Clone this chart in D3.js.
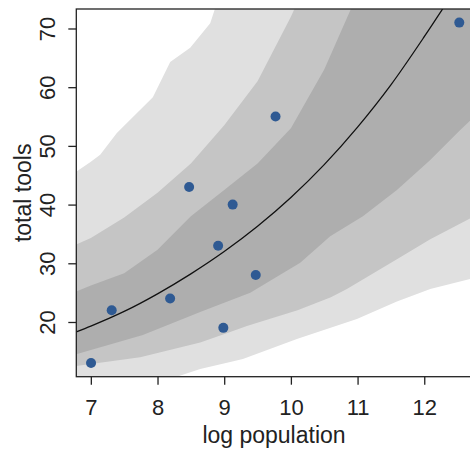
<!DOCTYPE html>
<html>
<head>
<meta charset="utf-8">
<script src="https://cdn.jsdelivr.net/npm/d3@7"></script>
<style>
  html, body { margin: 0; padding: 0; background: #fff; }
  svg { display: block; }
  text { font-family: "Liberation Sans", Arial, Helvetica, sans-serif; fill: #222; }
</style>
</head>
<body>
<svg id="chart" width="470" height="452"></svg>
<script>
// ---- data ----
const logpop = [7.003, 7.313, 8.189, 8.474, 8.909, 8.987, 9.127, 9.473, 9.770, 12.525];
const tools  = [13, 22, 24, 43, 33, 19, 40, 28, 55, 71];

const xTicks = [7, 8, 9, 10, 11, 12];
const yTicks = [20, 30, 40, 50, 60, 70];

// mean curve
const meanX = [6.78, 7.0, 7.5, 8.0, 8.5, 9.0, 9.5, 10.0, 10.5, 11.0, 11.5, 12.0, 12.4];
const meanY = [18.3, 19.3, 21.8, 24.8, 28.2, 32.0, 36.3, 41.2, 46.8, 53.2, 60.4, 68.6, 75.5];

// outer band (lightest)
const outerUpX = [6.78, 7.0, 7.14, 7.39, 7.93, 8.19, 8.49, 8.79, 8.86, 9.0, 12.75];
const outerUpY = [45.6, 47.3, 48.5, 52.2, 58.3, 64.3, 66.7, 70.9, 73.3, 77, 200];
const outerLoX = [6.78, 7.5, 8.3, 8.64, 9.09, 9.28, 10.09, 10.99, 11.59, 12.09, 12.75];
const outerLoY = [7.0, 9.0, 10.7, 12.0, 13.2, 13.7, 17.1, 20.5, 23.5, 25.6, 27.5];

// middle band
const midUpX = [6.78, 7.0, 7.5, 8.0, 8.5, 9.0, 9.5, 10.0, 10.2, 12.75];
const midUpY = [33.2, 34.3, 37.8, 42.0, 47.0, 53.5, 61.0, 72.0, 77, 200];
const midLoX = [6.78, 7.74, 8.64, 9.09, 9.34, 10.1, 10.6, 10.84, 11.59, 12.09, 12.75];
const midLoY = [12.5, 14.0, 16.5, 18.3, 19.3, 22.0, 24.2, 25.6, 30.7, 34.1, 38.0];

// inner band (darkest)
const inUpX = [6.78, 7.0, 7.5, 8.0, 8.5, 9.0, 9.5, 10.0, 10.5, 10.9, 11.2, 12.75];
const inUpY = [25.2, 26.2, 28.3, 32.3, 38.0, 42.5, 47.0, 53.0, 63.0, 73.3, 80, 200];
const inLoX = [6.78, 7.78, 8.64, 9.39, 10.14, 10.59, 11.08, 11.59, 12.09, 12.54, 12.75];
const inLoY = [14.5, 17.8, 21.7, 25.0, 30.1, 34.6, 38.0, 42.5, 47.6, 52.7, 55.0];

// ---- layout ----
const svg = d3.select("#chart");
const pL = 76.3, pR = 474, pT = 9, pB = 376.7;

const x = d3.scaleLinear().domain([6.782, 12.746]).range([pL, pR]);
const y = d3.scaleLinear().domain([10.68, 73.32]).range([pB, pT]);

svg.append("clipPath").attr("id", "clip")
  .append("rect").attr("x", pL).attr("y", pT)
  .attr("width", pR - pL).attr("height", pB - pT);

const plot = svg.append("g").attr("clip-path", "url(#clip)");

const line = d3.line().x(d => x(d[0])).y(d => y(d[1])).curve(d3.curveLinear);

function band(upX, upY, loX, loY) {
  const up = upX.map((v, i) => [v, upY[i]]);
  const lo = loX.map((v, i) => [v, loY[i]]).reverse();
  return line(up.concat(lo)) + "Z";
}

plot.append("path").attr("d", band(outerUpX, outerUpY, outerLoX, outerLoY)).attr("fill", "#e0e0e0");
plot.append("path").attr("d", band(midUpX, midUpY, midLoX, midLoY)).attr("fill", "#c5c5c5");
plot.append("path").attr("d", band(inUpX, inUpY, inLoX, inLoY)).attr("fill", "#aeaeae");

plot.append("path")
  .datum(meanX.map((v, i) => [v, meanY[i]]))
  .attr("d", d3.line().x(d => x(d[0])).y(d => y(d[1])).curve(d3.curveMonotoneX))
  .attr("fill", "none").attr("stroke", "#111").attr("stroke-width", 1.3);

plot.selectAll("circle.pt")
  .data(logpop.map((v, i) => [v, tools[i]]))
  .enter().append("circle")
  .attr("class", "pt")
  .attr("cx", d => x(d[0])).attr("cy", d => y(d[1]))
  .attr("r", 5).attr("fill", "#2f5a93");

// box
svg.append("rect").attr("x", pL).attr("y", pT)
  .attr("width", pR - pL).attr("height", pB - pT)
  .attr("fill", "none").attr("stroke", "#222").attr("stroke-width", 1.3);

// axes
const xAxis = d3.axisBottom(x).tickValues(xTicks).tickSize(8).tickFormat(d3.format("d"));
const gx = svg.append("g").attr("transform", `translate(0,${pB})`).call(xAxis);
gx.select(".domain").remove();
gx.selectAll(".tick line").attr("stroke", "#222").attr("stroke-width", 1.3);
gx.selectAll(".tick text").attr("font-size", 22).attr("fill", "#222")
  .style("font-family", "Liberation Sans, Arial, sans-serif")
  .attr("dy", null).attr("y", 415 - pB);

const yAxis = d3.axisLeft(y).tickValues(yTicks).tickSize(8).tickFormat(d3.format("d"));
const gy = svg.append("g").attr("transform", `translate(${pL},0)`).call(yAxis);
gy.select(".domain").remove();
gy.selectAll(".tick line").attr("stroke", "#222").attr("stroke-width", 1.3);
gy.selectAll(".tick text")
  .attr("font-size", 22).attr("fill", "#222")
  .style("font-family", "Liberation Sans, Arial, sans-serif")
  .attr("text-anchor", "middle").attr("dy", null)
  .attr("x", 0).attr("y", 0)
  .attr("transform", "translate(-21,0) rotate(-90)");

// axis titles
svg.append("text").attr("x", 274).attr("y", 443)
  .attr("text-anchor", "middle").attr("font-size", 23).text("log population");
svg.append("text")
  .attr("transform", `translate(31,${(pT + pB) / 2}) rotate(-90)`)
  .attr("text-anchor", "middle").attr("font-size", 23).text("total tools");
</script>
</body>
</html>
